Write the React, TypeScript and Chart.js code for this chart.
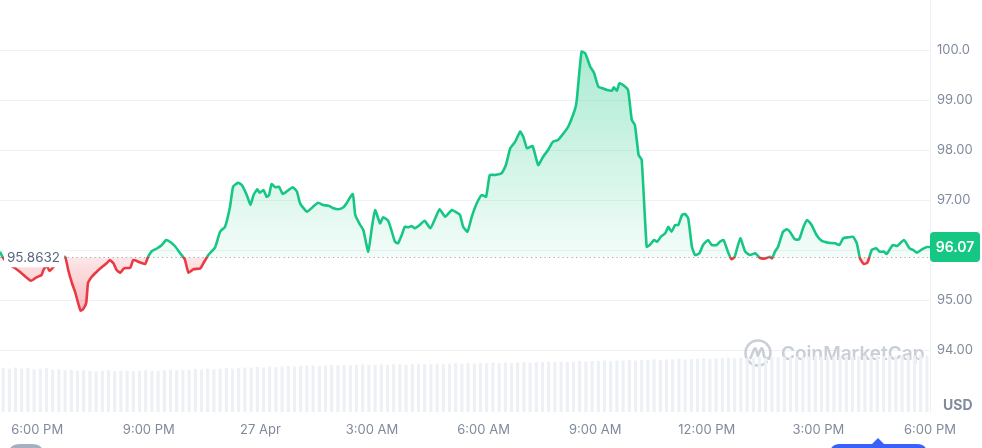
import React, { useEffect, useRef } from "react";
import { Chart, registerables } from "chart.js";

Chart.register(...registerables);

// ---- data ----
const BASELINE = 95.8632;
const LAST_PRICE = 96.07;

// minutes after 5:00 PM (26 Apr)
const MINUTES = [
  0, 5, 16, 24, 32, 38, 50, 59, 67, 70, 75, 80, 89, 97, 105, 110, 116, 121, 126, 130,
  134, 139, 142, 148, 156, 164, 172, 177, 183, 188, 194, 200, 210, 215, 223, 234, 239, 245, 253, 261,
  268, 274, 282, 290, 298, 304, 312, 323, 328, 336, 347, 355, 363, 371, 376, 384, 390, 398, 404, 409,
  415, 419, 425, 430, 434, 438, 444, 450, 456, 462, 472, 479, 484, 495, 505, 513, 521, 530, 538, 546,
  554, 559, 569, 573, 581, 586, 594, 600, 605, 613, 618, 626, 632, 637, 642, 648, 653, 659, 664, 669,
  677, 685, 694, 702, 709, 718, 729, 737, 742, 747, 754, 761, 769, 777, 784, 790, 798, 809, 816, 823,
  831, 839, 844, 850, 859, 868, 876, 884, 892, 900, 909, 917, 927, 930, 938, 944, 952, 958, 965, 972,
  979, 987, 990, 995, 999, 1005, 1013, 1019, 1024, 1030, 1035, 1043, 1048, 1055, 1060, 1066, 1073, 1078, 1083, 1089,
  1094, 1100, 1105, 1110, 1116, 1121, 1128, 1134, 1142, 1148, 1156, 1161, 1167, 1175, 1180, 1185, 1194, 1202, 1210, 1218,
  1226, 1234, 1242, 1245, 1250, 1255, 1263, 1269, 1274, 1282, 1289, 1296, 1302, 1309, 1317, 1325, 1336, 1347, 1354, 1360,
  1368, 1376, 1382, 1387, 1393, 1399, 1406, 1413, 1419, 1426, 1430, 1440, 1447, 1458, 1467, 1473, 1479, 1487, 1495, 1500,
];

const PRICES = [
  95.976, 95.85, 95.71, 95.65, 95.576, 95.51, 95.396, 95.464, 95.51, 95.61, 95.7, 95.59, 95.71, 95.81, 95.876, 95.61, 95.35, 95.176, 94.95, 94.796,
  94.824, 94.95, 95.35, 95.476, 95.576, 95.664, 95.744, 95.81, 95.744, 95.61, 95.556, 95.644, 95.656, 95.81, 95.776, 95.73, 95.876, 95.99, 96.04, 96.11,
  96.21, 96.176, 96.09, 95.956, 95.824, 95.556, 95.624, 95.644, 95.744, 95.91, 96.064, 96.376, 96.476, 96.876, 97.276, 97.356, 97.31, 97.11, 96.91, 97.11,
  97.224, 97.156, 97.21, 97.076, 97.11, 97.33, 97.264, 97.276, 97.13, 97.176, 97.264, 97.176, 96.944, 96.776, 96.876, 96.956, 96.91, 96.896, 96.844, 96.824,
  96.864, 96.944, 97.13, 96.71, 96.51, 96.41, 95.976, 96.476, 96.81, 96.544, 96.664, 96.596, 96.376, 96.176, 96.144, 96.31, 96.476, 96.464, 96.49, 96.444,
  96.51, 96.596, 96.444, 96.644, 96.824, 96.676, 96.81, 96.756, 96.71, 96.476, 96.376, 96.676, 96.944, 97.11, 97.076, 97.51, 97.51, 97.544, 97.71, 98.044,
  98.176, 98.376, 98.276, 98.044, 98.09, 97.71, 97.876, 98.01, 98.176, 98.21, 98.344, 98.49, 98.81, 98.976, 99.976, 99.944, 99.676, 99.556, 99.276, 99.244,
  99.21, 99.196, 99.264, 99.196, 99.344, 99.31, 99.21, 98.61, 98.51, 97.91, 97.81, 96.076, 96.11, 96.21, 96.176, 96.276, 96.344, 96.476, 96.376, 96.51,
  96.51, 96.71, 96.73, 96.644, 96.076, 95.91, 95.944, 96.11, 96.21, 96.11, 96.11, 96.176, 96.21, 95.944, 95.824, 95.876, 96.244, 95.976, 95.91, 95.944,
  95.85, 95.84, 95.876, 95.844, 95.976, 96.076, 96.376, 96.424, 96.376, 96.224, 96.224, 96.476, 96.61, 96.51, 96.31, 96.196, 96.156, 96.144, 96.11, 96.244,
  96.264, 96.276, 96.144, 95.844, 95.73, 95.756, 96.01, 96.044, 95.976, 95.976, 95.93, 96.11, 96.09, 96.21, 96.044, 96.01, 95.956, 96.024, 96.07, 96.07,
];

// volume (millions) per 10-minute bucket
const VOLUME_STEP_MIN = 10;
const VOLUMES = [
  4.05, 4.0, 4.1, 4.0, 4.05, 3.95, 4.0, 4.05, 3.9, 3.95,
  3.85, 3.9, 3.8, 3.85, 3.8, 3.75, 3.8, 3.85, 3.75, 3.8,
  3.8, 3.75, 3.8, 3.85, 3.8, 3.8, 3.85, 3.9, 3.85, 3.9,
  3.9, 3.95, 3.9, 4.0, 3.95, 4.0, 4.05, 4.0, 4.05, 4.1,
  4.1, 4.15, 4.1, 4.2, 4.15, 4.2, 4.25, 4.2, 4.25, 4.3,
  4.3, 4.25, 4.3, 4.35, 4.3, 4.35, 4.3, 4.35, 4.4, 4.35,
  4.35, 4.4, 4.35, 4.4, 4.4, 4.35, 4.4, 4.45, 4.4, 4.4,
  4.45, 4.4, 4.45, 4.5, 4.45, 4.5, 4.45, 4.5, 4.5, 4.55,
  4.5, 4.55, 4.5, 4.55, 4.6, 4.55, 4.6, 4.6, 4.65, 4.6,
  4.65, 4.6, 4.65, 4.7, 4.65, 4.7, 4.7, 4.75, 4.7, 4.75,
  4.75, 4.8, 4.75, 4.8, 4.8, 4.85, 4.8, 4.85, 4.85, 4.9,
  4.85, 4.9, 4.9, 4.95, 4.9, 4.95, 4.95, 5.0, 4.95, 5.0,
  5.0, 5.0, 5.05, 5.0, 5.05, 5.05, 5.1, 5.05, 5.1, 5.1,
  5.1, 5.15, 5.1, 5.15, 5.1, 5.15, 5.15, 5.1, 5.15, 5.2,
  5.15, 5.2, 5.15, 5.2, 5.2, 5.15, 5.2, 5.2, 5.25, 5.2,
];

const TICK_MINUTES = [60, 240, 420, 600, 780, 960, 1140, 1320, 1500];
const TICK_LABELS = ["6:00 PM", "9:00 PM", "27 Apr", "3:00 AM", "6:00 AM", "9:00 AM", "12:00 PM", "3:00 PM", "6:00 PM"];
const Y_TICKS = [94, 95, 96, 97, 98, 99, 100];

// ---- styles ----
const GREEN = "#16c784";
const RED = "#ea3943";
const FONT = "Inter, 'Noto Sans', sans-serif";
const AXIS_TEXT = "#808a9d";
const GRID = "#eff2f5";

function valueGradient(ctx: any, stops: [number, string][]) {
  const chart = ctx.chart;
  const y = chart.scales && chart.scales.y;
  if (!chart.chartArea || !y) return "rgba(0,0,0,0)";
  const y0 = y.getPixelForValue(stops[0][0]);
  const y1 = y.getPixelForValue(stops[stops.length - 1][0]);
  const g = chart.ctx.createLinearGradient(0, y0, 0, y1);
  stops.forEach(([v, c]) => {
    const t = (y.getPixelForValue(v) - y0) / (y1 - y0);
    g.addColorStop(Math.min(1, Math.max(0, t)), c);
  });
  return g;
}

function splitLineColor(ctx: any) {
  const chart = ctx.chart;
  const a = chart.chartArea;
  const y = chart.scales && chart.scales.y;
  if (!a || !y) return GREEN;
  const g = chart.ctx.createLinearGradient(0, a.top, 0, a.bottom);
  const f = Math.min(1, Math.max(0, (y.getPixelForValue(BASELINE) - a.top) / (a.bottom - a.top)));
  g.addColorStop(0, GREEN);
  g.addColorStop(f, GREEN);
  g.addColorStop(f, RED);
  g.addColorStop(1, RED);
  return g;
}

function roundRect(ctx: CanvasRenderingContext2D, x: number, y: number, w: number, h: number, r: number) {
  ctx.beginPath();
  ctx.moveTo(x + r, y);
  ctx.lineTo(x + w - r, y);
  ctx.quadraticCurveTo(x + w, y, x + w, y + r);
  ctx.lineTo(x + w, y + h - r);
  ctx.quadraticCurveTo(x + w, y + h, x + w - r, y + h);
  ctx.lineTo(x + r, y + h);
  ctx.quadraticCurveTo(x, y + h, x, y + h - r);
  ctx.lineTo(x, y + r);
  ctx.quadraticCurveTo(x, y, x + r, y);
  ctx.closePath();
}

const decorPlugin = {
  id: "decor",
  beforeDatasetsDraw(chart: any) {
    const { ctx, chartArea: a, scales } = chart;
    ctx.save();
    // watermark
    const cx = a.right - 172;
    const cy = a.bottom - 59;
    ctx.strokeStyle = "#c9ced7";
    ctx.lineWidth = 2.6;
    ctx.lineCap = "round";
    ctx.lineJoin = "round";
    ctx.beginPath();
    ctx.arc(cx, cy, 12.5, 0.25 * Math.PI, 2.15 * Math.PI);
    ctx.stroke();
    ctx.beginPath();
    ctx.moveTo(cx - 7.5, cy + 5);
    ctx.lineTo(cx - 4, cy - 3.5);
    ctx.quadraticCurveTo(cx - 2.8, cy - 6, cx - 1.8, cy - 3);
    ctx.lineTo(cx - 0.2, cy + 3);
    ctx.lineTo(cx + 2.6, cy - 3.5);
    ctx.quadraticCurveTo(cx + 3.8, cy - 6, cx + 4.8, cy - 3);
    ctx.lineTo(cx + 6, cy + 3);
    ctx.quadraticCurveTo(cx + 7.5, cy + 6.5, cx + 11, cy + 5);
    ctx.stroke();
    ctx.fillStyle = "#c9ced7";
    ctx.font = `600 19px ${FONT}`;
    ctx.textBaseline = "middle";
    ctx.textAlign = "left";
    ctx.fillText("CoinMarketCap", cx + 23, cy + 1);

    // dotted baseline
    const yb = Math.round(scales.y.getPixelForValue(BASELINE)) + 0.5;
    ctx.strokeStyle = "#a3aab8";
    ctx.lineWidth = 1;
    ctx.lineCap = "butt";
    ctx.setLineDash([1.2, 3.3]);
    ctx.beginPath();
    ctx.moveTo(a.left, yb);
    ctx.lineTo(a.right, yb);
    ctx.stroke();
    ctx.restore();
  },
  afterDatasetsDraw(chart: any) {
    const { ctx, chartArea: a, scales } = chart;
    const yb = scales.y.getPixelForValue(BASELINE);
    const label = String(BASELINE);
    ctx.save();
    ctx.font = `13.5px ${FONT}`;
    const w = ctx.measureText(label).width;
    ctx.fillStyle = "#ffffff";
    roundRect(ctx, a.left + 4, yb - 10, w + 7, 20, 3);
    ctx.fill();
    ctx.fillStyle = "#58667e";
    ctx.textBaseline = "middle";
    ctx.textAlign = "left";
    ctx.fillText(label, a.left + 7, yb + 1);
    ctx.restore();
  },
  afterDraw(chart: any) {
    const { ctx, chartArea: a, scales, height } = chart;
    ctx.save();
    // current price tag
    const yp = scales.y.getPixelForValue(LAST_PRICE);
    ctx.fillStyle = GREEN;
    roundRect(ctx, a.right, yp - 15, 50, 30, 4);
    ctx.fill();
    ctx.fillStyle = "#ffffff";
    ctx.font = `600 14px ${FONT}`;
    ctx.textAlign = "center";
    ctx.textBaseline = "middle";
    ctx.fillText(LAST_PRICE.toFixed(2), a.right + 25, yp + 0.5);

    // currency
    ctx.fillStyle = AXIS_TEXT;
    ctx.font = `bold 14px ${FONT}`;
    ctx.textAlign = "left";
    ctx.fillText("USD", a.right + 13, a.bottom - 6);

    // cut-off UI controls at the bottom edge
    ctx.fillStyle = "#a7b0c1";
    roundRect(ctx, 8, height - 4, 36, 30, 12);
    ctx.fill();
    ctx.fillStyle = "#3861fb";
    roundRect(ctx, a.right - 100, height - 4, 97, 30, 10);
    ctx.fill();
    ctx.beginPath();
    ctx.moveTo(a.right - 58, height - 4);
    ctx.lineTo(a.right - 52, height - 10);
    ctx.lineTo(a.right - 46, height - 4);
    ctx.closePath();
    ctx.fill();
    ctx.restore();
  },
};

export default function App() {
  const ref = useRef<HTMLCanvasElement>(null);

  useEffect(() => {
    document.body.style.margin = "0";
    const canvas = ref.current;
    if (!canvas) return;

    const priceData = MINUTES.map((m, i) => ({ x: m, y: PRICES[i] }));
    const volumeData = VOLUMES.map((v, i) => ({ x: i * VOLUME_STEP_MIN + VOLUME_STEP_MIN / 2, y: v }));

    const chart = new Chart(canvas, {
      type: "line",
      data: {
        datasets: [
          {
            type: "line",
            data: priceData,
            borderColor: splitLineColor as any,
            borderWidth: 2.6,
            pointRadius: 0,
            tension: 0.15,
            order: 0,
            fill: {
              target: { value: BASELINE },
              above: (c: any) =>
                valueGradient(c, [
                  [100, "rgba(22,199,132,0.36)"],
                  [BASELINE, "rgba(22,199,132,0.05)"],
                ]),
              below: (c: any) =>
                valueGradient(c, [
                  [BASELINE, "rgba(234,57,67,0.12)"],
                  [94.8, "rgba(234,57,67,0.34)"],
                ]),
            } as any,
          },
          {
            type: "bar",
            data: volumeData,
            yAxisID: "yv",
            backgroundColor: "#edf0f4",
            barPercentage: 0.5,
            categoryPercentage: 1,
            order: 1,
          } as any,
        ],
      },
      options: {
        responsive: false,
        animation: false,
        devicePixelRatio: 1,
        layout: { padding: 0 },
        plugins: { legend: { display: false }, tooltip: { enabled: false } },
        scales: {
          x: {
            type: "linear",
            min: 0,
            max: 1500,
            offset: false,
            grid: { display: false, drawTicks: false },
            border: { display: false },
            afterBuildTicks: (s: any) => {
              s.ticks = TICK_MINUTES.map((v) => ({ value: v }));
            },
            afterFit: (s: any) => {
              s.height = 36;
              s.paddingLeft = 0;
              s.paddingRight = 0;
            },
            ticks: {
              autoSkip: false,
              maxRotation: 0,
              padding: 10,
              color: AXIS_TEXT,
              font: { family: FONT, size: 13 },
              callback: (v: any) => {
                const i = TICK_MINUTES.indexOf(Number(v));
                return i >= 0 ? TICK_LABELS[i] : "";
              },
            },
          },
          y: {
            type: "linear",
            position: "right",
            min: 92.77,
            max: 101.01,
            grid: { color: GRID, drawTicks: false, lineWidth: 1 },
            border: { display: true, color: GRID },
            afterBuildTicks: (s: any) => {
              s.ticks = Y_TICKS.map((v) => ({ value: v }));
            },
            afterFit: (s: any) => {
              s.width = 52;
              s.paddingTop = 0;
              s.paddingBottom = 0;
            },
            ticks: {
              padding: 7,
              color: AXIS_TEXT,
              font: { family: FONT, size: 13 },
              callback: (v: any) => (Number(v) >= 100 ? Number(v).toFixed(1) : Number(v).toFixed(2)),
            },
          },
          yv: {
            type: "linear",
            display: false,
            min: 0,
            max: 38,
          },
        },
      },
      plugins: [decorPlugin],
    });

    return () => chart.destroy();
  }, []);

  return (
    <div style={{ width: 982, height: 448, position: "relative", background: "#ffffff", overflow: "hidden" }}>
      <canvas ref={ref} width={982} height={448} style={{ display: "block", width: 982, height: 448 }} />
    </div>
  );
}
